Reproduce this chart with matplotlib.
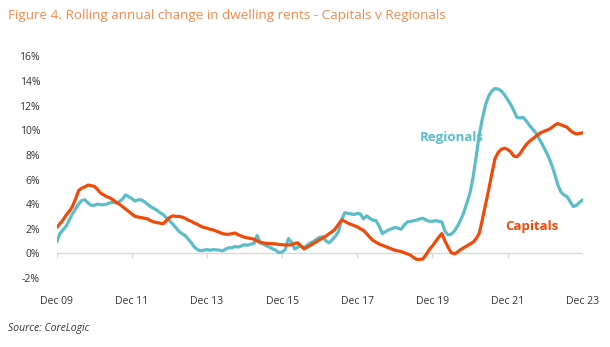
import matplotlib
matplotlib.use("Agg")
import matplotlib.pyplot as plt
import numpy as np

# Monthly data, Dec 2009 .. Dec 2023 (169 months)
capitals = [
    2.1, 2.4, 2.7, 3.1, 3.4, 3.8, 4.4, 5.1, 5.3, 5.4,
    5.55, 5.5, 5.45, 5.2, 4.9, 4.75, 4.6, 4.5, 4.35, 4.15,
    4.0, 3.8, 3.6, 3.4, 3.2, 3.0, 2.95, 2.9, 2.85, 2.8,
    2.65, 2.55, 2.5, 2.45, 2.4, 2.65, 2.9, 3.05, 3.0, 3.0,
    2.95, 2.85, 2.7, 2.6, 2.45, 2.35, 2.2, 2.1, 2.05, 1.95,
    1.9, 1.8, 1.7, 1.6, 1.55, 1.55, 1.6, 1.65, 1.5, 1.4,
    1.3, 1.25, 1.2, 1.15, 1.0, 0.9, 0.85, 0.8, 0.8, 0.78,
    0.76, 0.72, 0.7, 0.68, 0.67, 0.7, 0.8, 0.85, 0.6, 0.35,
    0.5, 0.65, 0.8, 0.95, 1.1, 1.25, 1.4, 1.6, 1.75, 2.0,
    2.35, 2.7, 2.6, 2.45, 2.35, 2.25, 2.15, 2.0, 1.85, 1.6,
    1.3, 1.05, 0.9, 0.75, 0.65, 0.55, 0.45, 0.35, 0.25, 0.2,
    0.15, 0.05, -0.05, -0.15, -0.35, -0.5, -0.5, -0.45, -0.1, 0.3,
    0.6, 0.95, 1.3, 1.6, 1.0, 0.5, 0.05, -0.05, 0.1, 0.3,
    0.45, 0.6, 0.75, 0.9, 1.2, 1.65, 2.8, 4.0, 5.2, 6.5,
    7.7, 8.2, 8.45, 8.55, 8.45, 8.25, 7.9, 7.85, 8.1, 8.5,
    8.85, 9.1, 9.3, 9.5, 9.7, 9.85, 9.95, 10.05, 10.2, 10.4,
    10.55, 10.45, 10.35, 10.25, 10.0, 9.8, 9.7, 9.75, 9.8,
]

regionals = [
    0.9, 1.6, 1.9, 2.2, 2.7, 3.2, 3.6, 4.0, 4.3, 4.35,
    4.1, 3.9, 3.9, 4.0, 3.95, 3.95, 4.0, 4.1, 4.15, 4.1,
    4.2, 4.4, 4.75, 4.6, 4.45, 4.25, 4.35, 4.35, 4.2, 4.0,
    3.8, 3.65, 3.5, 3.3, 3.15, 2.9, 2.65, 2.4, 2.1, 1.8,
    1.6, 1.45, 1.15, 0.85, 0.5, 0.3, 0.2, 0.25, 0.3, 0.25,
    0.3, 0.28, 0.25, 0.2, 0.35, 0.45, 0.45, 0.55, 0.5, 0.6,
    0.7, 0.65, 0.75, 0.8, 1.45, 0.85, 0.75, 0.6, 0.5, 0.35,
    0.25, 0.05, 0.1, 0.3, 1.2, 0.9, 0.35, 0.5, 0.6, 0.45,
    0.65, 0.85, 0.95, 1.15, 1.3, 1.35, 1.0, 0.85, 1.1, 1.4,
    1.75, 2.7, 3.3, 3.25, 3.2, 3.15, 3.25, 3.2, 2.8, 3.05,
    2.85, 2.7, 2.65, 2.2, 1.6, 1.75, 1.9, 2.0, 2.1, 2.05,
    1.95, 2.3, 2.55, 2.6, 2.65, 2.7, 2.8, 2.85, 2.7, 2.6,
    2.6, 2.65, 2.6, 2.55, 1.8, 1.5, 1.55, 1.8, 2.2, 2.7,
    3.3, 4.1, 4.9, 6.2, 7.9, 9.7, 11.0, 12.1, 12.8, 13.2,
    13.4, 13.35, 13.2, 12.9, 12.5, 12.1, 11.6, 11.05, 11.0, 11.05,
    10.75, 10.4, 10.1, 9.8, 9.35, 8.9, 8.4, 7.9, 7.25, 6.5,
    5.6, 5.0, 4.75, 4.6, 4.2, 3.8, 3.9, 4.15, 4.35,
]

x_tick_labels = ["Dec 09", "Dec 11", "Dec 13", "Dec 15", "Dec 17", "Dec 19", "Dec 21", "Dec 23"]
y_ticks = [-2, 0, 2, 4, 6, 8, 10, 12, 14, 16]

title = "Figure 4. Rolling annual change in dwelling rents - Capitals v Regionals"
source = "Source: CoreLogic"

CAP_COLOR = "#F04A0A"
REG_COLOR = "#5BBDC8"
TITLE_COLOR = "#F5894E"
TEXT_COLOR = "#333333"

plt.rcParams["font.family"] = ["Open Sans", "DejaVu Sans"]

fig = plt.figure(figsize=(6.10, 3.47), dpi=100)
ax = fig.add_axes([56.7 / 610, 69.1 / 347, (582.7 - 56.7) / 610, (290.5 - 69.1) / 347])

months = np.arange(len(capitals))
ax.plot(months, regionals, color=REG_COLOR, lw=2.3, solid_capstyle="round", zorder=3)
ax.plot(months, capitals, color=CAP_COLOR, lw=2.3, solid_capstyle="round", zorder=4)

ax.set_xlim(0, 168)
ax.set_ylim(-2, 16)

# zero baseline and small tick marks
ax.axhline(0, color="#D9D9D9", lw=1.0, zorder=1)
tick_pos = np.arange(0, 169, 24)
for t in tick_pos:
    ax.plot([t, t], [0, -0.33], color="#D9D9D9", lw=1.0, zorder=1)

for s in ax.spines.values():
    s.set_visible(False)

ax.set_xticks(tick_pos)
ax.set_xticklabels(x_tick_labels, fontsize=7.5, color=TEXT_COLOR)
ax.set_yticks(y_ticks)
ax.set_yticklabels([f"{v}%" for v in y_ticks], fontsize=7.5, color=TEXT_COLOR)
ax.tick_params(axis="both", length=0)
ax.tick_params(axis="y", pad=12)
ax.tick_params(axis="x", pad=13)

ax.text(126.3, 9.4, "Regionals", color=REG_COLOR, fontsize=9.5, fontweight="bold",
        ha="center", va="center")
ax.text(151.8, 2.15, "Capitals", color=CAP_COLOR, fontsize=9.5, fontweight="bold",
        ha="center", va="center")

fig.text(8 / 610, 1 - 15 / 347, title, color=TITLE_COLOR, fontsize=9.7,
         ha="left", va="center")
fig.text(8 / 610, 1 - 329 / 347, source, color=TEXT_COLOR, fontsize=7.5,
         style="italic", ha="left", va="center")

fig.savefig("out.png", dpi=100)
